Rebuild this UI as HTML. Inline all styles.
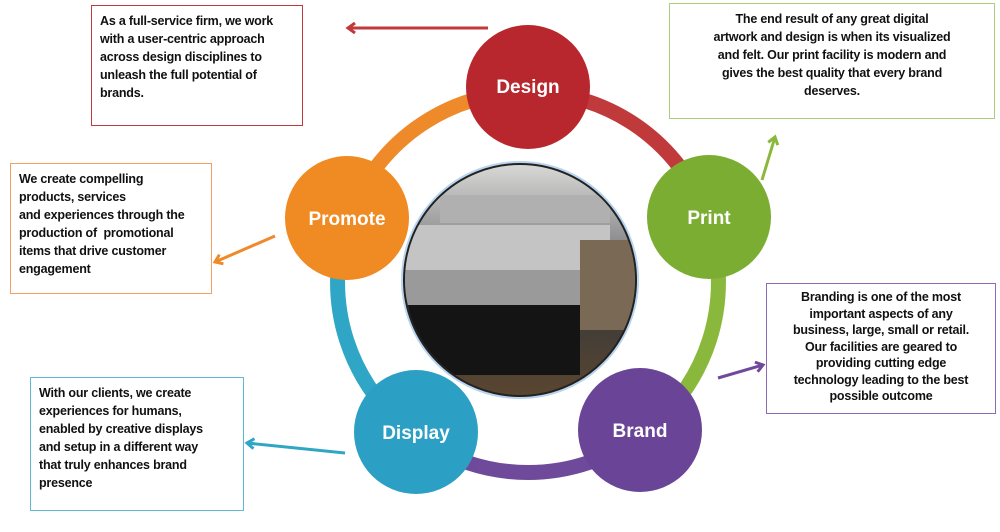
<!DOCTYPE html>
<html><head><style>
body{margin:0;width:1000px;height:532px;background:#fff;position:relative;overflow:hidden;font-family:"Liberation Sans",sans-serif}
.box{position:absolute;box-sizing:border-box;background:#fff;font-size:12.5px;font-weight:bold;line-height:18px;color:#111;padding:6px 8px;letter-spacing:-0.2px;white-space:nowrap}
</style></head><body>
<svg width="1000" height="532" style="position:absolute;left:0;top:0">
<defs>
<marker id="m" markerWidth="12" markerHeight="12" refX="9" refY="6" orient="auto" markerUnits="userSpaceOnUse"><path d="M2,1 L9,6 L2,11" fill="none" stroke="context-stroke" stroke-width="3"/></marker>
<linearGradient id="ph" x1="0" y1="0" x2="0" y2="1"><stop offset="0" stop-color="#d8d8d6"/><stop offset="0.35" stop-color="#8a8a8c"/><stop offset="0.6" stop-color="#3a3a3a"/><stop offset="1" stop-color="#5a4630"/></linearGradient>
<clipPath id="cp"><circle cx="520" cy="280" r="115"/></clipPath>
</defs>
<g fill="none" stroke-width="15">
<path d="M528,92 A190,190 0 0 1 709,223" stroke="#c0393b"/>
<path d="M709,223 A190,190 0 0 1 640,436" stroke="#8ab83c"/>
<path d="M640,436 A190,190 0 0 1 416,436" stroke="#6f4a9a"/>
<path d="M416,436 A190,190 0 0 1 347,223" stroke="#2fa6c6"/>
<path d="M347,223 A190,190 0 0 1 528,92" stroke="#ee8a2a"/>
</g>
<circle cx="520" cy="280" r="119" fill="#b9d4ee"/>
<circle cx="520" cy="280" r="116" fill="url(#ph)" stroke="#222" stroke-width="2"/>
<g clip-path="url(#cp)">
<rect x="400" y="225" width="210" height="45" fill="#c4c4c4"/>
<rect x="400" y="270" width="210" height="40" fill="#9a9a9a"/>
<rect x="400" y="305" width="180" height="70" fill="#141414"/>
<rect x="580" y="240" width="60" height="90" fill="#7a6a55"/>
<rect x="440" y="195" width="170" height="28" fill="#b0b0b0"/>
</g>
<circle cx="528" cy="87" r="62" fill="#b8272d"/>
<circle cx="709" cy="217" r="62" fill="#7cad33"/>
<circle cx="640" cy="430" r="62" fill="#6a4597"/>
<circle cx="416" cy="432" r="62" fill="#2ba0c4"/>
<circle cx="347" cy="218" r="62" fill="#f08a22"/>
<g font-family="Liberation Sans" font-weight="bold" font-size="19" fill="#fff" text-anchor="middle">
<text x="528" y="93">Design</text><text x="709" y="224">Print</text><text x="640" y="437">Brand</text><text x="416" y="439">Display</text><text x="347" y="225">Promote</text>
</g>
<g fill="none" stroke-width="3">
<line x1="488" y1="28" x2="348" y2="28" stroke="#c0393b" marker-end="url(#m)"/>
<line x1="762" y1="180" x2="775" y2="137" stroke="#8ab83c" marker-end="url(#m)"/>
<line x1="275" y1="236" x2="215" y2="262" stroke="#ee8a2a" marker-end="url(#m)"/>
<line x1="718" y1="378" x2="763" y2="365" stroke="#6f4a9a" marker-end="url(#m)"/>
<line x1="345" y1="453" x2="247" y2="443" stroke="#2fa6c6" marker-end="url(#m)"/>
</g>
</svg>
<div class="box" style="left:91px;top:5px;width:212px;height:121px;border:1.5px solid #c0393b">As a full-service firm, we work<br>with a user-centric approach<br>across design disciplines to<br>unleash the full potential of<br>brands.</div>
<div class="box" style="left:669px;top:3px;width:326px;height:116px;border:1.5px solid #a9cf7a;text-align:center">The end result of any great digital<br>artwork and design is when its visualized<br>and felt. Our print facility is modern and<br>gives the best quality that every brand<br>deserves.</div>
<div class="box" style="left:10px;top:163px;width:202px;height:131px;border:1.5px solid #f0a060">We create compelling<br>products, services<br>and experiences through the<br>production of &nbsp;promotional<br>items that drive customer<br>engagement</div>
<div class="box" style="left:766px;top:283px;width:230px;height:131px;border:1.5px solid #8d6ab5;text-align:center;line-height:16.5px;padding-top:5px">Branding is one of the most<br>important aspects of any<br>business, large, small or retail.<br>Our facilities are geared to<br>providing cutting edge<br>technology leading to the best<br>possible outcome</div>
<div class="box" style="left:30px;top:377px;width:214px;height:134px;border:1.5px solid #5fb8d6">With our clients, we create<br>experiences for humans,<br>enabled by creative displays<br>and setup in a different way<br>that truly enhances brand<br>presence</div>
</body></html>
